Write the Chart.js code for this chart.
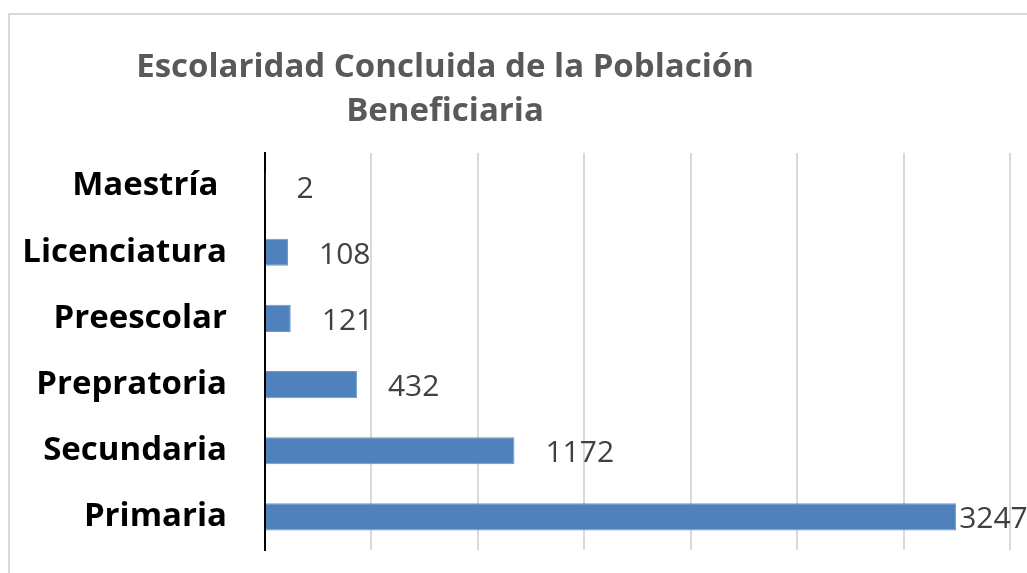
<!DOCTYPE html>
<html>
<head>
<meta charset="utf-8">
<script src="https://cdn.jsdelivr.net/npm/chart.js@4"></script>
<style>
  body { margin: 0; background: #fff; overflow: hidden; }
  .frame {
    position: absolute; left: 8px; top: 13px;
    width: 1100px; height: 700px;
    border: 2px solid #d9d9d9;
  }
  #chart { position: absolute; left: 0; top: 0; }
</style>
</head>
<body>
<div class="frame"></div>
<canvas id="chart" width="1027" height="573"></canvas>
<script>
const titleLines = ["Escolaridad Concluida de la Población", "Beneficiaria"];
const categories = ["Maestría ", "Licenciatura", "Preescolar", "Prepratoria", "Secundaria", "Primaria"];
const values = [2, 108, 121, 432, 1172, 3247];
const axisMax = 3500;
const axisStep = 500;

// titulo desplazado a la izquierda, como en el original
const titlePlugin = {
  id: "titulo",
  afterDraw(chart) {
    const c = chart.ctx;
    c.save();
    c.font = "bold 33px 'Open Sans'";
    c.fillStyle = "#595959";
    c.textAlign = "center";
    c.textBaseline = "middle";
    c.fillText(titleLines[0], 445, 68);
    c.fillText(titleLines[1], 445, 112);
    c.restore();
  },
};

// etiquetas de valor al final de cada barra
const labelPlugin = {
  id: "etiquetas",
  afterDatasetsDraw(chart) {
    const c = chart.ctx;
    const meta = chart.getDatasetMeta(0);
    c.save();
    c.font = "30px 'Open Sans'";
    c.fillStyle = "#404040";
    c.textBaseline = "middle";
    meta.data.forEach((bar, i) => {
      const txt = String(values[i]);
      const w = c.measureText(txt).width;
      let x = bar.x + 31;
      if (x + w > chart.chartArea.right) x = bar.x + 3;
      c.fillText(txt, x, bar.y + 3);
    });
    c.restore();
  },
};

new Chart(document.getElementById("chart"), {
  type: "bar",
  data: {
    labels: categories,
    datasets: [
      {
        data: values,
        backgroundColor: "#4f81bd",
        borderColor: "#6f97c9",
        borderWidth: 1,
        categoryPercentage: 1,
        barPercentage: 0.41,
      },
    ],
  },
  options: {
    indexAxis: "y",
    responsive: false,
    animation: false,
    layout: { padding: { top: 153, right: 17, bottom: 23, left: 20 } },
    plugins: { legend: { display: false }, tooltip: { enabled: false } },
    scales: {
      x: {
        min: 0,
        max: axisMax,
        ticks: { display: false, stepSize: axisStep, padding: 0 },
        grid: { color: "#d9d9d9", lineWidth: 2, drawTicks: false },
        border: { display: false },
        afterFit(scale) {
          scale.height = 0;
          scale.paddingLeft = 0;
          scale.paddingRight = 0;
        },
      },
      y: {
        ticks: {
          color: "#000",
          font: { family: "Open Sans", weight: "bold", size: 33 },
          padding: 38,
        },
        grid: { display: false, drawTicks: false },
        border: { color: "#000", width: 2 },
        afterFit(scale) {
          scale.width = 245;
          scale.paddingTop = 0;
          scale.paddingBottom = 0;
        },
      },
    },
  },
  plugins: [titlePlugin, labelPlugin],
});
</script>
</body>
</html>
